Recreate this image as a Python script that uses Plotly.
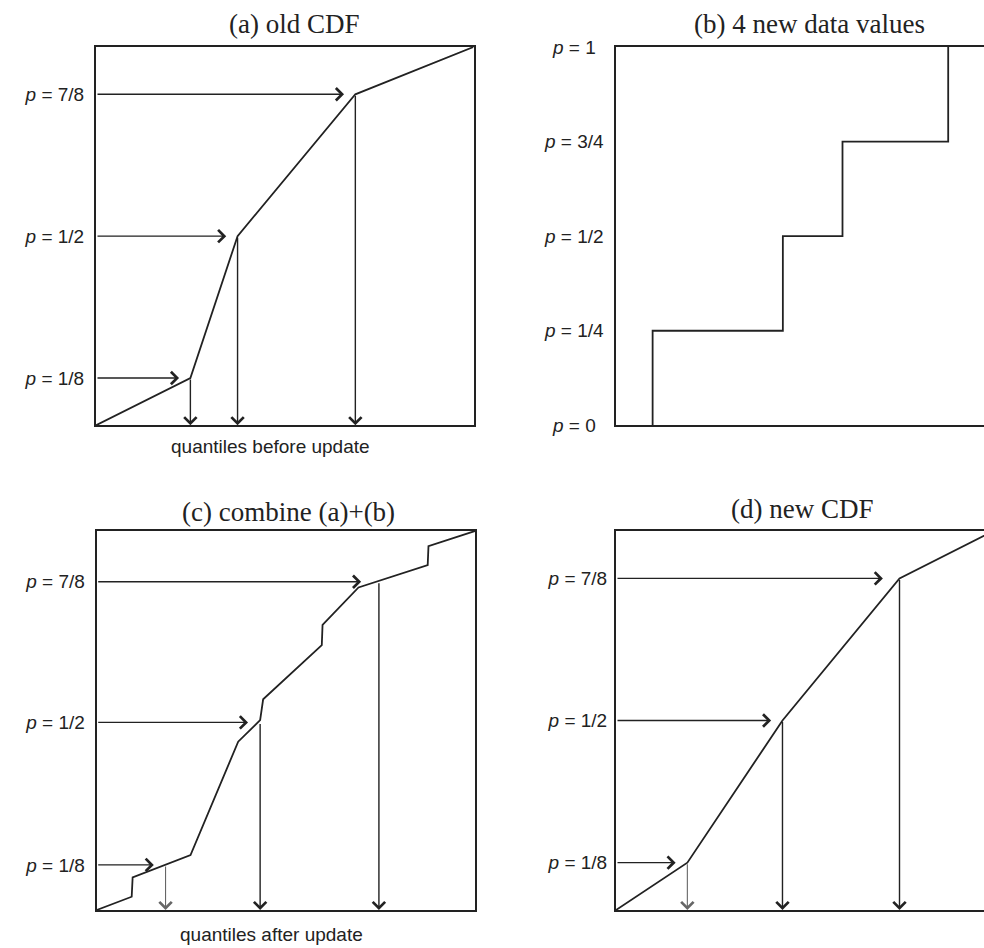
import plotly.graph_objects as go

W, H = 984, 948

# ---------------- data ----------------
# (a) old CDF: piecewise-linear, knots at the stored quantiles
old_x = [0.0, 0.25, 0.375, 0.687, 1.0]
old_p = [0.0, 0.125, 0.5, 0.875, 1.0]

# (b) 4 new data values (empirical step CDF)
new_vals = [0.097, 0.442, 0.600, 0.880]
new_p = [0.25, 0.50, 0.75, 1.00]

# (c) combined CDF (a)+(b)
comb_x = [0.0, 0.0925, 0.095, 0.248, 0.374, 0.432, 0.440, 0.595, 0.597, 0.692, 0.875, 0.877, 1.0]
comb_p = [0.0, 0.035, 0.086, 0.145, 0.444, 0.501, 0.556, 0.699, 0.752, 0.851, 0.910, 0.960, 1.0]
comb_q_x = [0.182, 0.432, 0.746]      # quantiles after update
comb_q_p = [0.119, 0.495, 0.866]

# (d) new CDF
new_cdf_x = [0.0, 0.189, 0.441, 0.751, 1.0]
new_cdf_p = [0.0, 0.125, 0.5, 0.875, 1.0]

# quantile levels / labels
q_levels = [0.125, 0.5, 0.875]
q_labels = ["<i>p</i> = 1/8", "<i>p</i> = 1/2", "<i>p</i> = 7/8"]
b_levels = [0.0, 0.25, 0.5, 0.75, 1.0]
b_labels = ["<i>p</i> = 0", "<i>p</i> = 1/4", "<i>p</i> = 1/2", "<i>p</i> = 3/4", "<i>p</i> = 1"]

titles = ["(a) old CDF", "(b) 4 new data values", "(c) combine (a)+(b)", "(d) new CDF"]
xlabels = ["quantiles before update", "quantiles after update"]

# ---------------- styling ----------------
INK = "#222222"
GREY = "#666666"
SANS = "Liberation Sans, Arial, sans-serif"
SERIF = "Liberation Serif, Times New Roman, serif"


def px_x(px):
    return px / W


def px_y(py):
    return 1 - py / H


# panel boxes in pixels: (left, top, right, bottom)
boxes = {
    "a": (96.0, 47.0, 473.5, 425.3),
    "b": (616.0, 47.0, 993.5, 425.3),
    "c": (96.7, 531.0, 475.0, 910.0),
    "d": (616.0, 531.0, 993.5, 910.0),
}
order = ["a", "b", "c", "d"]

fig = go.Figure()
layout = dict(
    width=W, height=H,
    margin=dict(l=0, r=0, t=0, b=0),
    paper_bgcolor="white", plot_bgcolor="white",
    showlegend=False,
)

annotations = []

for i, key in enumerate(order):
    l, t, r, b = boxes[key]
    n = "" if i == 0 else str(i + 1)
    xr_end = 1.0
    dom_r = r / W
    if dom_r > 1:
        xr_end = (W - l) / (r - l)
        dom_r = 1.0
    xa = dict(
        domain=[l / W, dom_r], range=[0, xr_end],
        showgrid=False, zeroline=False, showticklabels=False, ticks="",
        showline=True, linecolor=INK, linewidth=2, mirror=True,
        anchor="y" + n, fixedrange=True,
    )
    ya = dict(
        domain=[px_y(b), px_y(t)], range=[0, 1],
        showgrid=False, zeroline=False, ticks="",
        showline=True, linecolor=INK, linewidth=2,
        mirror=(key in ("a", "c")),
        anchor="x" + n, fixedrange=True,
    )
    if key == "b":
        ya["showticklabels"] = False
    else:
        ya.update(
            tickmode="array",
            tickvals=(comb_q_p if key == "c" else q_levels),
            ticktext=q_labels,
            tickfont=dict(family=SANS, size=19, color=INK),
            ticklabelstandoff=(6 if key in ("a", "c") else 3),
        )
    layout["xaxis" + n] = xa
    layout["yaxis" + n] = ya

# ---------------- traces ----------------
line_style = dict(color=INK, width=1.8)

fig.add_trace(go.Scatter(x=old_x, y=old_p, mode="lines", line=line_style,
                         xaxis="x", yaxis="y", hoverinfo="skip"))

step_x, step_y = [], []
prev_p = 0.0
for v, p in zip(new_vals, new_p):
    if step_x:
        step_x.append(v)
        step_y.append(prev_p)
    step_x += [v, v]
    step_y += [prev_p, p]
    prev_p = p
fig.add_trace(go.Scatter(x=step_x, y=step_y, mode="lines", line=line_style,
                         xaxis="x2", yaxis="y2", hoverinfo="skip"))

fig.add_trace(go.Scatter(x=comb_x, y=comb_p, mode="lines", line=line_style,
                         xaxis="x3", yaxis="y3", hoverinfo="skip"))

fig.add_trace(go.Scatter(x=new_cdf_x, y=new_cdf_p, mode="lines", line=line_style,
                         xaxis="x4", yaxis="y4", hoverinfo="skip"))


# ---------------- arrows ----------------
HEAD_SCALE = 2.4


def arrow(xref, yref, x_head, y_head, x_tail, y_tail, color=INK, width=1.4):
    annotations.append(dict(
        xref=xref, yref=yref, axref=xref, ayref=yref,
        x=x_head, y=y_head, ax=x_tail, ay=y_tail,
        text="", showarrow=True, arrowhead=4, arrowsize=HEAD_SCALE / width,
        arrowwidth=width, arrowcolor=color, standoff=0, startstandoff=0,
    ))


GAP = 0.03
# (a)
for k, p in enumerate(q_levels):
    qx = old_x[k + 1]
    arrow("x", "y", qx - GAP, p, 0.0, p)
    arrow("x", "y", qx, 0.0, qx, p)
# (c)
c_gaps = [0.031, 0.032, 0.047]
for k in range(3):
    qx, p = comb_q_x[k], comb_q_p[k]
    arrow("x3", "y3", qx - c_gaps[k], p, 0.0, p)
    if k == 0:
        arrow("x3", "y3", qx, 0.0, qx, p, color=GREY, width=1.1)
    else:
        arrow("x3", "y3", qx, 0.0, qx, p)
# (d)
for k, p in enumerate(q_levels):
    qx = new_cdf_x[k + 1]
    gap = 0.031 if k == 0 else (0.030 if k == 1 else 0.044)
    arrow("x4", "y4", qx - gap, p, 0.0, p)
    if k == 0:
        arrow("x4", "y4", qx, 0.0, qx, p, color=GREY, width=1.1)
    else:
        arrow("x4", "y4", qx, 0.0, qx, p)

# ---------------- text ----------------
title_pos = [(294, 24), (809, 24), (288, 512), (802, 509)]
for txt, (cx, cy) in zip(titles, title_pos):
    annotations.append(dict(
        xref="paper", yref="paper", x=px_x(cx), y=px_y(cy),
        xanchor="center", yanchor="middle", showarrow=False,
        text=txt, font=dict(family=SERIF, size=27, color=INK),
    ))

for txt, (cx, cy) in zip(xlabels, [(270, 446), (271, 934)]):
    annotations.append(dict(
        xref="paper", yref="paper", x=px_x(cx), y=px_y(cy),
        xanchor="center", yanchor="middle", showarrow=False,
        text=txt, font=dict(family=SANS, size=19, color=INK),
    ))

# (b) labels are centred in a column to the left of the box
for lv, lt in zip(b_levels, b_labels):
    annotations.append(dict(
        xref="paper", yref="y2", x=px_x(574), y=lv,
        xanchor="center", yanchor="middle", showarrow=False,
        text=lt, font=dict(family=SANS, size=19, color=INK),
    ))

layout["annotations"] = annotations
fig.update_layout(**layout)
fig.write_html("out.html")
